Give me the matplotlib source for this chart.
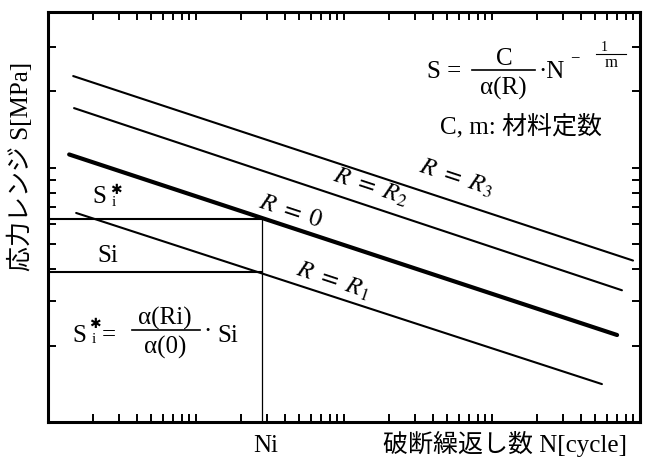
import numpy as np
import matplotlib
matplotlib.use("Agg")
import matplotlib.pyplot as plt
from matplotlib.lines import Line2D
from matplotlib.ticker import FixedLocator, NullFormatter, NullLocator

plt.rcParams['mathtext.fontset'] = 'stix'
plt.rcParams['font.family'] = ['Liberation Serif', 'Noto Sans CJK JP', 'DejaVu Sans']

# S-N lines (log-log straight lines), two end points each
line_names = ['R3', 'R2', 'R0', 'R1']
n_start = [1.48, 1.50, 1.39, 1.55]
n_end = [8970, 7550, 7000, 5530]
s_start = [23.0, 17.2, 11.3, 6.65]
s_end = [4.32, 3.30, 2.20, 1.41]
line_widths = [1.5, 1.5, 3.0, 1.5]

# reference point on the R = R1 line and its R = 0 equivalent
Ni = 28.0
Si = 3.9
Si_star = 6.3

x_limits = [1.0, 1.0e4]
y_limits = [1.0, 41.1]
x_ticks = [m * 10.0 ** d for d in range(4) for m in range(1, 10)] + [1.0e4]
y_ticks = [2, 3, 4, 5, 6, 7, 8, 9, 10, 20, 30]

W, H = 645, 459
fig = plt.figure(figsize=(W / 100, H / 100), dpi=100)
ax = fig.add_axes([48 / W, 37 / H, 592 / W, 410 / H])
ax.set_xscale('log')
ax.set_yscale('log')
ax.set_xlim(x_limits)
ax.set_ylim(y_limits)

ax.xaxis.set_major_locator(FixedLocator(x_ticks))
ax.xaxis.set_minor_locator(NullLocator())
ax.yaxis.set_major_locator(FixedLocator(y_ticks))
ax.yaxis.set_minor_locator(NullLocator())
ax.xaxis.set_major_formatter(NullFormatter())
ax.yaxis.set_major_formatter(NullFormatter())
ax.tick_params(which='both', direction='in', length=6, width=1.4,
               top=True, right=True, color='black')
for sp in ax.spines.values():
    sp.set_linewidth(2.2)
    sp.set_color('black')

for n0, n1, s0, s1, lw in zip(n_start, n_end, s_start, s_end, line_widths):
    ax.plot([n0, n1], [s0, s1], color='black', lw=lw, solid_capstyle='round')

# guide lines at Ni
ax.plot([x_limits[0], Ni], [Si_star, Si_star], color='black', lw=1.5)
ax.plot([x_limits[0], Ni], [Si, Si], color='black', lw=1.5)
ax.plot([Ni, Ni], [y_limits[0], Si_star], color='black', lw=0.9)

# slope angle of the lines on screen
p0 = ax.transData.transform((n_start[0], s_start[0]))
p1 = ax.transData.transform((n_end[0], s_end[0]))
angle = np.degrees(np.arctan2(p1[1] - p0[1], p1[0] - p0[0]))

fs = 18


def put(x, y, s, size=fs, ha='left', va='baseline', **kw):
    """Place text at pixel position (x from left, y from top)."""
    return fig.text(x / W, 1 - y / H, s, fontsize=size, ha=ha, va=va, **kw)


def bar(x0, x1, y, lw=1.2):
    fig.add_artist(Line2D([x0 / W, x1 / W], [1 - y / H, 1 - y / H],
                          transform=fig.transFigure, color='black', lw=lw))


label_pos = {'R3': (456, 178), 'R2': (370, 187), 'R0': (291, 212), 'R1': (333, 281)}
label_txt = {'R3': r'$R\ =\ R_3$', 'R2': r'$R\ =\ R_2$',
             'R0': r'$R\ =\ \mathit{0}$', 'R1': r'$R\ =\ R_1$'}
for k in line_names:
    x, y = label_pos[k]
    put(x, y, label_txt[k], size=fs, ha='center', va='center',
        rotation=angle, rotation_mode='anchor')

# S = C / alpha(R) * N^(-1/m)
put(427, 78, 'S =')
bar(472, 535, 70)
put(504, 65, 'C', ha='center')
put(503, 95, 'α(R)', ha='center')
put(538, 78, '·N')
put(575, 58, '−', size=12, ha='center', va='center')
bar(596, 626, 54, lw=0.8)
put(604, 51, '1', size=10, ha='center')
put(611, 67, 'm', size=12, ha='center')

put(440, 133, 'C, m: 材料定数')

# S_i* markers
put(92, 203, 'S')
put(116, 190, '✱', size=10, ha='center', va='center')
put(114, 206, 'i', size=11, ha='center')
put(97, 262, 'Si')

put(72, 342, 'S')
put(95, 324, '✱', size=10, ha='center', va='center')
put(94, 343, 'i', size=11, ha='center')
put(102, 341, '=')
bar(132, 200, 330)
put(165, 325, 'α(Ri)', ha='center')
put(165, 354, 'α(0)', ha='center')
put(208, 338, '·', ha='center')
put(217, 342, 'Si')

put(266, 452, 'Ni', ha='center')
put(383, 452, '破断繰返し数 N[cycle]')

fig.text(20 / W, 1 - 166 / H, '応力レンジ S[MPa]', rotation=90,
         fontsize=fs, ha='center', va='center')

fig.savefig('out.png', dpi=100, facecolor='white')
